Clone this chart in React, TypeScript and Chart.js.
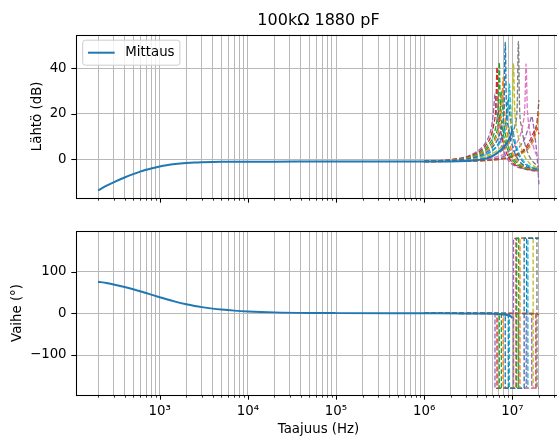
import React, { useEffect, useRef } from 'react';
import { Chart, registerables } from 'chart.js';

Chart.register(...registerables);

const FONT = "'DejaVu Sans', 'Noto Sans', sans-serif";
const TICK_FONT = { family: FONT, size: 13.33, weight: 'normal' as const };

const TITLE = '100kΩ 1880 pF';
const X_LABEL = 'Taajuus (Hz)';
const Y_LABEL_MAG = 'Lähtö (dB)';
const Y_LABEL_PHASE = 'Vaihe (°)';
const LEGEND_LABEL = 'Mittaus';

// axis ranges and ticks
const X_MIN = 112.5;
const X_MAX = 3.56e7;
const MAG_MIN = -17;
const MAG_MAX = 54.8;
const PHASE_MIN = -196;
const PHASE_MAX = 197.6;
const magTicks = [0, 20, 40];
const phaseTicks = [-100, 0, 100];
const xDecades = [1e2, 1e3, 1e4, 1e5, 1e6, 1e7];
const xDecadeLabels = ['10²', '10³', '10⁴', '10⁵', '10⁶', '10⁷'];
const xMinorMultiples = [2, 3, 4, 5, 6, 7, 8, 9];

// measured curve
const mittausHz = [200, 250, 300, 400, 500, 600, 700, 800, 1000, 1200, 1500, 2000, 2500, 3000, 4000, 5000, 7000, 1e4, 2e4, 5e4, 1e5, 1e6, 3e6, 5e6, 6e6, 7e6, 8e6, 9e6, 9.5e6, 1e7];
const mittausDb = [-13.7, -11.6, -10.1, -8.0, -6.5, -5.4, -4.6, -4.0, -3.15, -2.6, -2.1, -1.65, -1.42, -1.3, -1.17, -1.11, -1.06, -1.03, -1.01, -1.0, -1.0, -1.0, -0.7, 0.3, 1.5, 3.3, 5.5, 8.2, 10.2, 13.2];
const mittausDeg = [76, 72.6, 69.4, 63.4, 58, 53.1, 48.8, 45, 38.7, 33.7, 28.1, 21.8, 17.7, 14.9, 11.3, 9.1, 6.5, 4.6, 2.3, 0.9, 0.5, 0, -0.2, -0.6, -1, -1.5, -2.5, -4.5, -6.5, -11];

// simulated curves (frequencies in MHz)
const sim01MHz = [1, 2.5, 4.15, 5.4, 6.2, 7.05, 7.65, 8.05, 8.3, 8.55, 8.95, 9.55, 10.8, 12.45, 14.1, 16.6, 20];
const sim01Db = [-0.9, -0.2, 1.5, 3.8, 6.2, 10.1, 15.3, 23.6, 51.4, 23.3, 14.6, 8.8, 2.2, -1.5, -3, -4, -4.5];
const sim02MHz = [1, 2.35, 3.9, 5.1, 5.9, 6.65, 7.2, 7.6, 7.85, 8.1, 8.5, 9.05, 10.2, 11.8, 13.3, 15.7, 20];
const sim02Db = [-0.9, -0.2, 1.5, 3.8, 6.2, 10.1, 15.3, 23.3, 36, 23, 14.6, 8.8, 2.2, -1.5, -3, -4, -4.8];
const sim03MHz = [1, 2.15, 3.55, 4.6, 5.3, 6.05, 6.55, 6.9, 7.1, 7.3, 7.65, 8.15, 9.25, 10.65, 12.1, 14.2, 20];
const sim03Db = [-0.8, -0.2, 1.5, 3.8, 6.2, 10.1, 15.3, 23.5, 42.6, 23.2, 14.6, 8.8, 2.2, -1.5, -3, -4, -5];
const sim04MHz = [1, 2, 3.35, 4.35, 5, 5.7, 6.15, 6.5, 6.7, 6.9, 7.25, 7.7, 8.7, 10.05, 11.4, 13.4, 20];
const sim04Db = [-0.8, -0.2, 1.5, 3.8, 6.2, 10.1, 15.3, 23.5, 40.6, 23.2, 14.6, 8.8, 2.2, -1.5, -3, -4, -5.2];
const sim05MHz = [1, 1.9, 3.2, 4.1, 4.75, 5.4, 5.85, 6.15, 6.35, 6.55, 6.85, 7.3, 8.25, 9.5, 10.8, 12.7, 20];
const sim05Db = [-0.8, -0.2, 1.5, 3.8, 6.2, 10, 15.1, 22.5, 28.7, 22.2, 14.4, 8.7, 2.2, -1.5, -3, -4, -5.5];
const sim06MHz = [1, 3, 6, 9, 12, 15, 17, 18, 19, 19.5, 20];
const sim06Db = [-1, -0.7, -0.2, 0.8, 2.5, 5.5, 9, 12, 16.5, 20.5, 26];
const sim07MHz = [1, 4.3, 7.15, 9.3, 10.7, 12.15, 13.15, 13.85, 14.3, 14.75, 15.45, 16.45, 18.6, 20];
const sim07Db = [-0.95, -0.2, 1.5, 3.8, 6.2, 10.1, 15.3, 23.5, 41.9, 23.2, 14.6, 8.8, 2.2, 0];
const sim08MHz = [1, 3.5, 5.85, 7.6, 8.8, 9.95, 10.75, 11.35, 11.7, 12.05, 12.65, 13.45, 15.2, 17.55, 20];
const sim08Db = [-0.95, -0.2, 1.5, 3.8, 6.2, 10.1, 15.3, 23.6, 51.9, 23.3, 14.6, 8.8, 2.2, -1.5, -3];
const sim09MHz = [1, 3.1, 5.15, 6.7, 7.7, 8.75, 9.5, 10, 10.3, 10.6, 11.1, 11.85, 13.4, 15.45, 17.5, 20];
const sim09Db = [-0.95, -0.2, 1.5, 3.8, 6.2, 10.1, 15.3, 23.5, 42.2, 23.2, 14.6, 8.8, 2.2, -1.5, -3, -4];
const sim10MHz = [1, 2.8, 4.6, 6, 6.95, 7.85, 8.5, 8.95, 9.25, 9.55, 10, 10.65, 12, 13.9, 15.7, 18.5, 20];
const sim10Db = [-0.9, -0.2, 1.5, 3.8, 6.2, 10.1, 15.2, 23, 33, 22.8, 14.5, 8.8, 2.2, -1.5, -3, -4, -4.2];
const sim11MHz = [1, 2.7, 4.5, 5.85, 6.75, 7.65, 8.3, 8.75, 9, 9.25, 9.7, 10.35, 11.7, 13.5, 15.3, 18, 20];
const sim11Db = [-0.9, -0.2, 1.5, 3.8, 6.2, 10, 15, 22, 27, 21.8, 14.3, 8.7, 2.2, -1.5, -3, -4, -4.2];
const sim12MHz = [1, 3, 6, 9, 12, 15, 17, 18, 19, 20];
const sim12Db = [-1, -0.8, -0.3, 0.5, 2, 4.5, 7.5, 10, 14, 21];
const sim13MHz = [1, 2.25, 3.75, 4.9, 5.6, 6.4, 6.9, 7.3, 7.5, 7.75, 8.1, 8.6, 9.75, 11.25, 12.75, 15, 20];
const sim13Db = [-0.9, -0.2, 1.5, 3.8, 6.2, 10, 15.1, 22.7, 30, 22.4, 14.4, 8.7, 2.2, -1.5, -3, -4, -5];
const sim14MHz = [1, 5.5, 9.25, 12, 13.9, 15.7, 17, 17.9, 18.5, 19.05, 20];
const sim14Db = [-1, -0.4, 1, 2.8, 4.8, 8, 11, 12.7, 14, 13.7, 11];
const sim15MHz = [1, 5, 8.3, 10.8, 12.45, 14.1, 15.3, 16.1, 16.6, 17.1, 17.9, 19, 20];
const sim15Db = [-1, -0.3, 1.5, 3.8, 6.2, 10, 14.5, 17.5, 19, 16.5, 11, 2, -11];

const sim01PhMHz = [1, 8.3, 8.3, 13.6, 13.6, 20];
const sim01Deg = [0, 0, -180, -180, 180, 180];
const sim02PhMHz = [1, 7.85, 7.85, 12.2, 12.2, 20];
const sim02Deg = [0, 0, -180, -180, 180, 180];
const sim03PhMHz = [1, 7.1, 7.1, 11.2, 11.2, 20];
const sim03Deg = [0, 0, -180, -180, 180, 180];
const sim04PhMHz = [1, 6.7, 6.7, 11.0, 11.0, 20];
const sim04Deg = [0, 0, -180, -180, 180, 180];
const sim05PhMHz = [1, 6.35, 6.35, 10.3, 10.3, 20];
const sim05Deg = [0, 0, -180, -180, 180, 180];
const sim06PhMHz = [1, 19, 20];
const sim06Deg = [0, -1, -4];
const sim07PhMHz = [1, 14.3, 14.3, 20];
const sim07Deg = [0, 0, -180, -180];
const sim08PhMHz = [1, 11.7, 11.7, 19, 19, 20];
const sim08Deg = [0, 0, -180, -180, 180, 180];
const sim09PhMHz = [1, 10.3, 10.3, 17.2, 17.2, 20];
const sim09Deg = [0, 0, -180, -180, 180, 180];
const sim10PhMHz = [1, 9.25, 9.25, 15, 15, 20];
const sim10Deg = [0, 0, -180, -180, 180, 180];
const sim11PhMHz = [1, 9.0, 9.0, 14.5, 14.5, 20];
const sim11Deg = [0, 0, -180, -180, 180, 180];
const sim12PhMHz = [1, 19, 20];
const sim12Deg = [0, -1, -3];
const sim13PhMHz = [1, 7.5, 7.5, 11.8, 11.8, 20];
const sim13Deg = [0, 0, -180, -180, 180, 180];
const sim14PhMHz = [1, 18.5, 18.5, 20];
const sim14Deg = [0, 0, -180, -180];
const sim15PhMHz = [1, 16.6, 16.6, 20];
const sim15Deg = [0, 0, -180, -180];

const simMag = [
  [sim01MHz, sim01Db], [sim02MHz, sim02Db], [sim03MHz, sim03Db], [sim04MHz, sim04Db], [sim05MHz, sim05Db],
  [sim06MHz, sim06Db], [sim07MHz, sim07Db], [sim08MHz, sim08Db], [sim09MHz, sim09Db], [sim10MHz, sim10Db],
  [sim11MHz, sim11Db], [sim12MHz, sim12Db], [sim13MHz, sim13Db], [sim14MHz, sim14Db], [sim15MHz, sim15Db],
];
const simPhase = [
  [sim01PhMHz, sim01Deg], [sim02PhMHz, sim02Deg], [sim03PhMHz, sim03Deg], [sim04PhMHz, sim04Deg], [sim05PhMHz, sim05Deg],
  [sim06PhMHz, sim06Deg], [sim07PhMHz, sim07Deg], [sim08PhMHz, sim08Deg], [sim09PhMHz, sim09Deg], [sim10PhMHz, sim10Deg],
  [sim11PhMHz, sim11Deg], [sim12PhMHz, sim12Deg], [sim13PhMHz, sim13Deg], [sim14PhMHz, sim14Deg], [sim15PhMHz, sim15Deg],
];

const TAB10 = ['#1f77b4', '#ff7f0e', '#2ca02c', '#d62728', '#9467bd', '#8c564b', '#e377c2', '#7f7f7f', '#bcbd22', '#17becf'];
const MAIN_COLOR = '#1f77b4';
const GRID = '#b8b8b8';

// layout (page pixels)
const CW = 600;
const TOP_H = 210;
const BOT_H = 228;
const AX_LEFT = 76;
const AX_RIGHT = 561;

function buildXTicks() {
  const ticks: { value: number; major: boolean }[] = [];
  for (const d of xDecades) {
    if (d >= X_MIN && d <= X_MAX) ticks.push({ value: d, major: true });
    for (const m of xMinorMultiples) {
      const v = m * d;
      if (v >= X_MIN && v <= X_MAX) ticks.push({ value: v, major: false });
    }
  }
  ticks.sort((a, b) => a.value - b.value);
  return ticks;
}

function xLabel(v: number) {
  const i = xDecades.findIndex((d) => Math.abs(d - v) < d * 1e-9);
  return i >= 0 ? xDecadeLabels[i] : '';
}

function yLabel(v: number) {
  return v < 0 ? '\u2212' + Math.abs(v) : String(v);
}

function xScale(showLabels: boolean, height: number) {
  return {
    type: 'logarithmic',
    min: X_MIN,
    max: X_MAX,
    bounds: 'data',
    afterBuildTicks: (s: any) => {
      s.ticks = buildXTicks();
    },
    afterFit: (s: any) => {
      s.height = height;
      s.paddingLeft = 0;
      s.paddingRight = 0;
    },
    grid: { color: GRID, lineWidth: 1, drawTicks: false },
    border: { display: false },
    ticks: {
      display: showLabels,
      autoSkip: false,
      maxRotation: 0,
      minRotation: 0,
      padding: 8.6,
      color: '#000',
      font: TICK_FONT,
      callback: (v: any) => xLabel(Number(v)),
    },
    title: {
      display: showLabels,
      text: X_LABEL,
      color: '#000',
      font: TICK_FONT,
      padding: { top: 0, bottom: 0 },
    },
  };
}

function yScale(min: number, max: number, ticks: number[], title: string, titlePad: number) {
  return {
    type: 'linear',
    min,
    max,
    bounds: 'data',
    afterBuildTicks: (s: any) => {
      s.ticks = ticks.map((v) => ({ value: v }));
    },
    afterFit: (s: any) => {
      s.width = AX_LEFT;
      s.paddingTop = 0;
      s.paddingBottom = 0;
    },
    grid: { color: GRID, lineWidth: 1, drawTicks: false },
    border: { display: false },
    ticks: {
      padding: 9.4,
      color: '#000',
      font: TICK_FONT,
      callback: (v: any) => yLabel(Number(v)),
    },
    title: {
      display: true,
      text: title,
      color: '#000',
      font: TICK_FONT,
      padding: { top: titlePad, bottom: 0 },
    },
  };
}

const axisDecor = {
  id: 'axisDecor',
  afterDraw(chart: any) {
    const { ctx, chartArea: a, scales } = chart;
    ctx.save();
    ctx.strokeStyle = '#000';
    for (const t of scales.x.ticks) {
      const px = Math.round(scales.x.getPixelForValue(t.value)) + 0.5;
      const len = t.major ? 4.7 : 2.7;
      ctx.lineWidth = t.major ? 1.07 : 0.8;
      ctx.beginPath();
      ctx.moveTo(px, a.bottom);
      ctx.lineTo(px, a.bottom + len);
      ctx.stroke();
    }
    for (const t of scales.y.ticks) {
      const py = Math.round(scales.y.getPixelForValue(t.value)) + 0.5;
      ctx.lineWidth = 1.07;
      ctx.beginPath();
      ctx.moveTo(a.left - 4.7, py);
      ctx.lineTo(a.left, py);
      ctx.stroke();
    }
    ctx.lineWidth = 1.07;
    ctx.strokeRect(Math.round(a.left) + 0.5, Math.round(a.top) + 0.5, Math.round(a.right - a.left), Math.round(a.bottom - a.top));
    ctx.restore();
  },
};

const legendBox = {
  id: 'legendBox',
  afterDraw(chart: any, _args: any, opts: any) {
    if (!opts || !opts.show) return;
    const ds = chart.data.datasets[0];
    const { ctx, chartArea: a } = chart;
    const fs = 13.33;
    ctx.save();
    ctx.font = `${fs}px ${FONT}`;
    const tw = ctx.measureText(ds.label).width;
    const pad = 0.4 * fs;
    const handle = 2 * fs;
    const gap = 0.8 * fs;
    const x0 = a.left + 6.7;
    const y0 = a.top + 5.5;
    const w = pad + handle + gap + tw + pad;
    const h = 25;
    const r = 2.7;
    ctx.beginPath();
    ctx.moveTo(x0 + r, y0);
    ctx.lineTo(x0 + w - r, y0);
    ctx.arcTo(x0 + w, y0, x0 + w, y0 + r, r);
    ctx.lineTo(x0 + w, y0 + h - r);
    ctx.arcTo(x0 + w, y0 + h, x0 + w - r, y0 + h, r);
    ctx.lineTo(x0 + r, y0 + h);
    ctx.arcTo(x0, y0 + h, x0, y0 + h - r, r);
    ctx.lineTo(x0, y0 + r);
    ctx.arcTo(x0, y0, x0 + r, y0, r);
    ctx.closePath();
    ctx.fillStyle = 'rgba(255,255,255,0.8)';
    ctx.fill();
    ctx.strokeStyle = '#cccccc';
    ctx.lineWidth = 1;
    ctx.stroke();
    const cy = y0 + h / 2;
    ctx.strokeStyle = ds.borderColor;
    ctx.lineWidth = 2;
    ctx.beginPath();
    ctx.moveTo(x0 + pad, cy);
    ctx.lineTo(x0 + pad + handle, cy);
    ctx.stroke();
    ctx.fillStyle = '#000';
    ctx.textBaseline = 'middle';
    ctx.textAlign = 'left';
    ctx.fillText(ds.label, x0 + pad + handle + gap, cy);
    ctx.restore();
  },
};

function toXY(xs: number[], ys: number[], scale: number) {
  return xs.map((x, i) => ({ x: x * scale, y: ys[i] }));
}

function magConfig(): any {
  const datasets: any[] = [
    {
      label: LEGEND_LABEL,
      data: toXY(mittausHz, mittausDb, 1),
      borderColor: MAIN_COLOR,
      borderWidth: 2,
      pointRadius: 0,
      fill: false,
      cubicInterpolationMode: 'monotone',
    },
  ];
  simMag.forEach(([f, v], i) => {
    datasets.push({
      label: 'sim' + (i + 1),
      data: toXY(f, v, 1e6),
      borderColor: TAB10[i % 10],
      borderWidth: 1.33,
      borderDash: [4.9, 2.1],
      pointRadius: 0,
      fill: false,
      cubicInterpolationMode: 'monotone',
    });
  });
  return {
    type: 'line',
    data: { datasets },
    options: {
      responsive: false,
      animation: false,
      devicePixelRatio: 1,
      layout: { padding: { left: 0, right: CW - AX_RIGHT, top: 0, bottom: 0 } },
      scales: {
        x: xScale(false, TOP_H - 198),
        y: yScale(MAG_MIN, MAG_MAX, magTicks, Y_LABEL_MAG, 29.5),
      },
      plugins: {
        legend: { display: false },
        tooltip: { enabled: false },
        title: {
          display: true,
          text: TITLE,
          fullSize: false,
          color: '#000',
          font: { family: FONT, size: 16, weight: 'normal' },
          padding: { top: 11.6, bottom: 3.9 },
        },
        legendBox: { show: true },
      },
    },
    plugins: [axisDecor, legendBox],
  };
}

function phaseConfig(): any {
  const datasets: any[] = [
    {
      label: LEGEND_LABEL,
      data: toXY(mittausHz, mittausDeg, 1),
      borderColor: MAIN_COLOR,
      borderWidth: 2,
      pointRadius: 0,
      fill: false,
      cubicInterpolationMode: 'monotone',
    },
  ];
  simPhase.forEach(([f, v], i) => {
    datasets.push({
      label: 'sim' + (i + 1),
      data: toXY(f, v, 1e6),
      borderColor: TAB10[i % 10],
      borderWidth: 1.33,
      borderDash: [4.9, 2.1],
      pointRadius: 0,
      fill: false,
    });
  });
  return {
    type: 'line',
    data: { datasets },
    options: {
      responsive: false,
      animation: false,
      devicePixelRatio: 1,
      layout: { padding: { left: 0, right: CW - AX_RIGHT, top: 231 - TOP_H, bottom: 0 } },
      scales: {
        x: xScale(true, BOT_H - (395 - TOP_H)),
        y: yScale(PHASE_MIN, PHASE_MAX, phaseTicks, Y_LABEL_PHASE, 9.2),
      },
      plugins: {
        legend: { display: false },
        tooltip: { enabled: false },
        legendBox: { show: false },
      },
    },
    plugins: [axisDecor, legendBox],
  };
}

export default function App() {
  const topRef = useRef<HTMLCanvasElement>(null);
  const botRef = useRef<HTMLCanvasElement>(null);
  useEffect(() => {
    const top = new Chart(topRef.current as HTMLCanvasElement, magConfig());
    const bot = new Chart(botRef.current as HTMLCanvasElement, phaseConfig());
    return () => {
      top.destroy();
      bot.destroy();
    };
  }, []);
  return (
    <div style={{ position: 'fixed', left: 0, top: 0, width: 557, height: 438, overflow: 'hidden', background: '#fff' }}>
      <canvas ref={topRef} width={CW} height={TOP_H} style={{ position: 'absolute', left: 0, top: 0, width: CW, height: TOP_H }} />
      <canvas ref={botRef} width={CW} height={BOT_H} style={{ position: 'absolute', left: 0, top: TOP_H, width: CW, height: BOT_H }} />
    </div>
  );
}
